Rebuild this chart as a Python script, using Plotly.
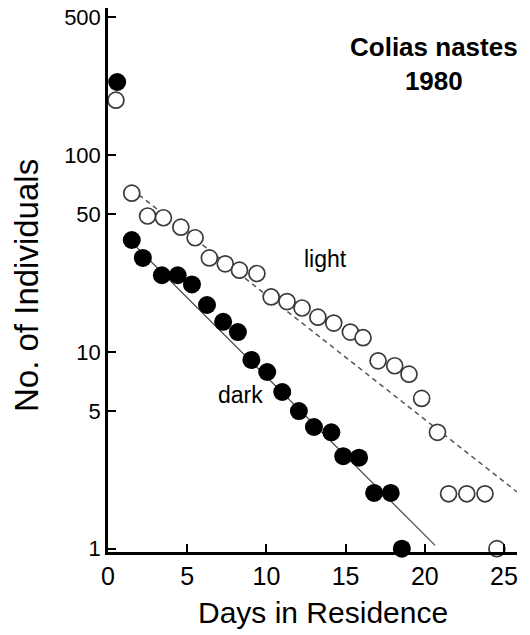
import plotly.graph_objects as go
import math

# ---- data ----
light_days = [0.5, 1.5, 2.5, 3.5, 4.6, 5.5, 6.4, 7.4, 8.3, 9.4, 10.3, 11.3, 12.25,
              13.25, 14.25, 15.3, 16.1, 17.05, 18.1, 19.0, 19.8, 20.8, 21.5, 22.65,
              23.8, 24.55]
light_counts = [190, 64, 49, 48, 43, 38, 30, 28, 26, 25, 19, 18, 16.7, 15, 14, 12.6,
                11.8, 9.0, 8.5, 7.7, 5.8, 3.9, 1.9, 1.9, 1.9, 1.0]

dark_days = [0.58, 1.5, 2.2, 3.4, 4.4, 5.3, 6.25, 7.27, 8.2, 9.05, 10.05, 11.0,
             12.05, 13.0, 14.1, 14.85, 15.85, 16.8, 17.85, 18.55]
dark_counts = [235, 37, 30, 24.5, 24.5, 22, 17.3, 14.2, 12.6, 9.1, 7.9, 6.25, 5.0,
               4.15, 3.9, 2.95, 2.9, 1.92, 1.92, 1.0]

dark_fit_days = [1.5, 20.65]
dark_fit_counts = [36, 1.04]
light_fit_days = [1.5, 25.9]
light_fit_counts = [67, 1.92]

y_tick_vals = [1, 5, 10, 50, 100, 500]
y_tick_text = ["1", "5", "10", "50", "100", "500"]
x_tick_vals = [0, 5, 10, 15, 20, 25]
x_tick_text = ["0", "5", "10", "15", "20", "25"]

FONT = "Liberation Sans, Arial, sans-serif"
W, H = 530, 635
ML, MR, MT, MB = 108, 13, 8, 83

fig = go.Figure()

fig.add_trace(go.Scatter(x=light_fit_days, y=light_fit_counts, mode="lines",
                         line=dict(color="#555555", width=1.5, dash="5px,4px"),
                         hoverinfo="skip", showlegend=False, cliponaxis=False))
fig.add_trace(go.Scatter(x=dark_fit_days, y=dark_fit_counts, mode="lines",
                         line=dict(color="#444444", width=1.2),
                         hoverinfo="skip", showlegend=False, cliponaxis=False))
fig.add_trace(go.Scatter(x=light_days, y=light_counts, mode="markers", name="light",
                         marker=dict(size=16, color="white",
                                     line=dict(color="#3a3a3a", width=1.7)),
                         showlegend=False, cliponaxis=False))
fig.add_trace(go.Scatter(x=dark_days, y=dark_counts, mode="markers", name="dark",
                         marker=dict(size=18, color="black",
                                     line=dict(color="black", width=0)),
                         showlegend=False, cliponaxis=False))


def px_x(p):
    return (p - ML) / (W - ML - MR)


def px_y(p):
    return 1 - (p - MT) / (H - MT - MB)


fig.add_annotation(x=px_x(434), y=px_y(64), xref="paper", yref="paper",
                   text="<b>Colias nastes</b><br><b>1980</b>", showarrow=False,
                   font=dict(family=FONT, size=26, color="black"),
                   xanchor="center", yanchor="middle", align="center")
fig.add_annotation(x=px_x(325), y=px_y(259), xref="paper", yref="paper", text="light",
                   showarrow=False, font=dict(family=FONT, size=23, color="black"))
fig.add_annotation(x=px_x(216), y=px_y(410), xref="paper", yref="paper", text="dark",
                   showarrow=False, font=dict(family=FONT, size=23, color="black"))
# axis titles
fig.add_annotation(x=px_x(323), y=px_y(612), xref="paper", yref="paper",
                   text="Days in Residence", showarrow=False,
                   font=dict(family=FONT, size=30, color="black"),
                   xanchor="center", yanchor="middle")
fig.add_annotation(x=px_x(26), y=px_y(286), xref="paper", yref="paper",
                   text="No. of Individuals", showarrow=False, textangle=-90,
                   font=dict(family=FONT, size=33, color="black"),
                   xanchor="center", yanchor="middle")

fig.update_xaxes(range=[0, 25.82], tickvals=x_tick_vals, ticktext=x_tick_text,
                 ticks="inside", ticklen=8, tickwidth=2, tickcolor="black",
                 showline=True, linecolor="black", linewidth=2.5,
                 showgrid=False, zeroline=False, automargin=False,
                 ticklabeloverflow="allow",
                 tickfont=dict(family=FONT, size=25, color="black"))
fig.update_yaxes(type="log", range=[-0.017, 2.747], tickvals=y_tick_vals,
                 ticktext=y_tick_text, ticks="inside", ticklen=8, tickwidth=2,
                 tickcolor="black", showline=True, linecolor="black", linewidth=2.5,
                 showgrid=False, zeroline=False, automargin=False,
                 ticklabeloverflow="allow",
                 tickfont=dict(family=FONT, size=22, color="black"))

fig.update_layout(width=W, height=H,
                  margin=dict(l=ML, r=MR, t=MT, b=MB, autoexpand=False),
                  plot_bgcolor="white", paper_bgcolor="white",
                  showlegend=False)

fig.write_html("out.html", config={"displayModeBar": False},
               post_script="document.body.style.margin='0';"
                           "document.body.style.overflow='hidden';")
